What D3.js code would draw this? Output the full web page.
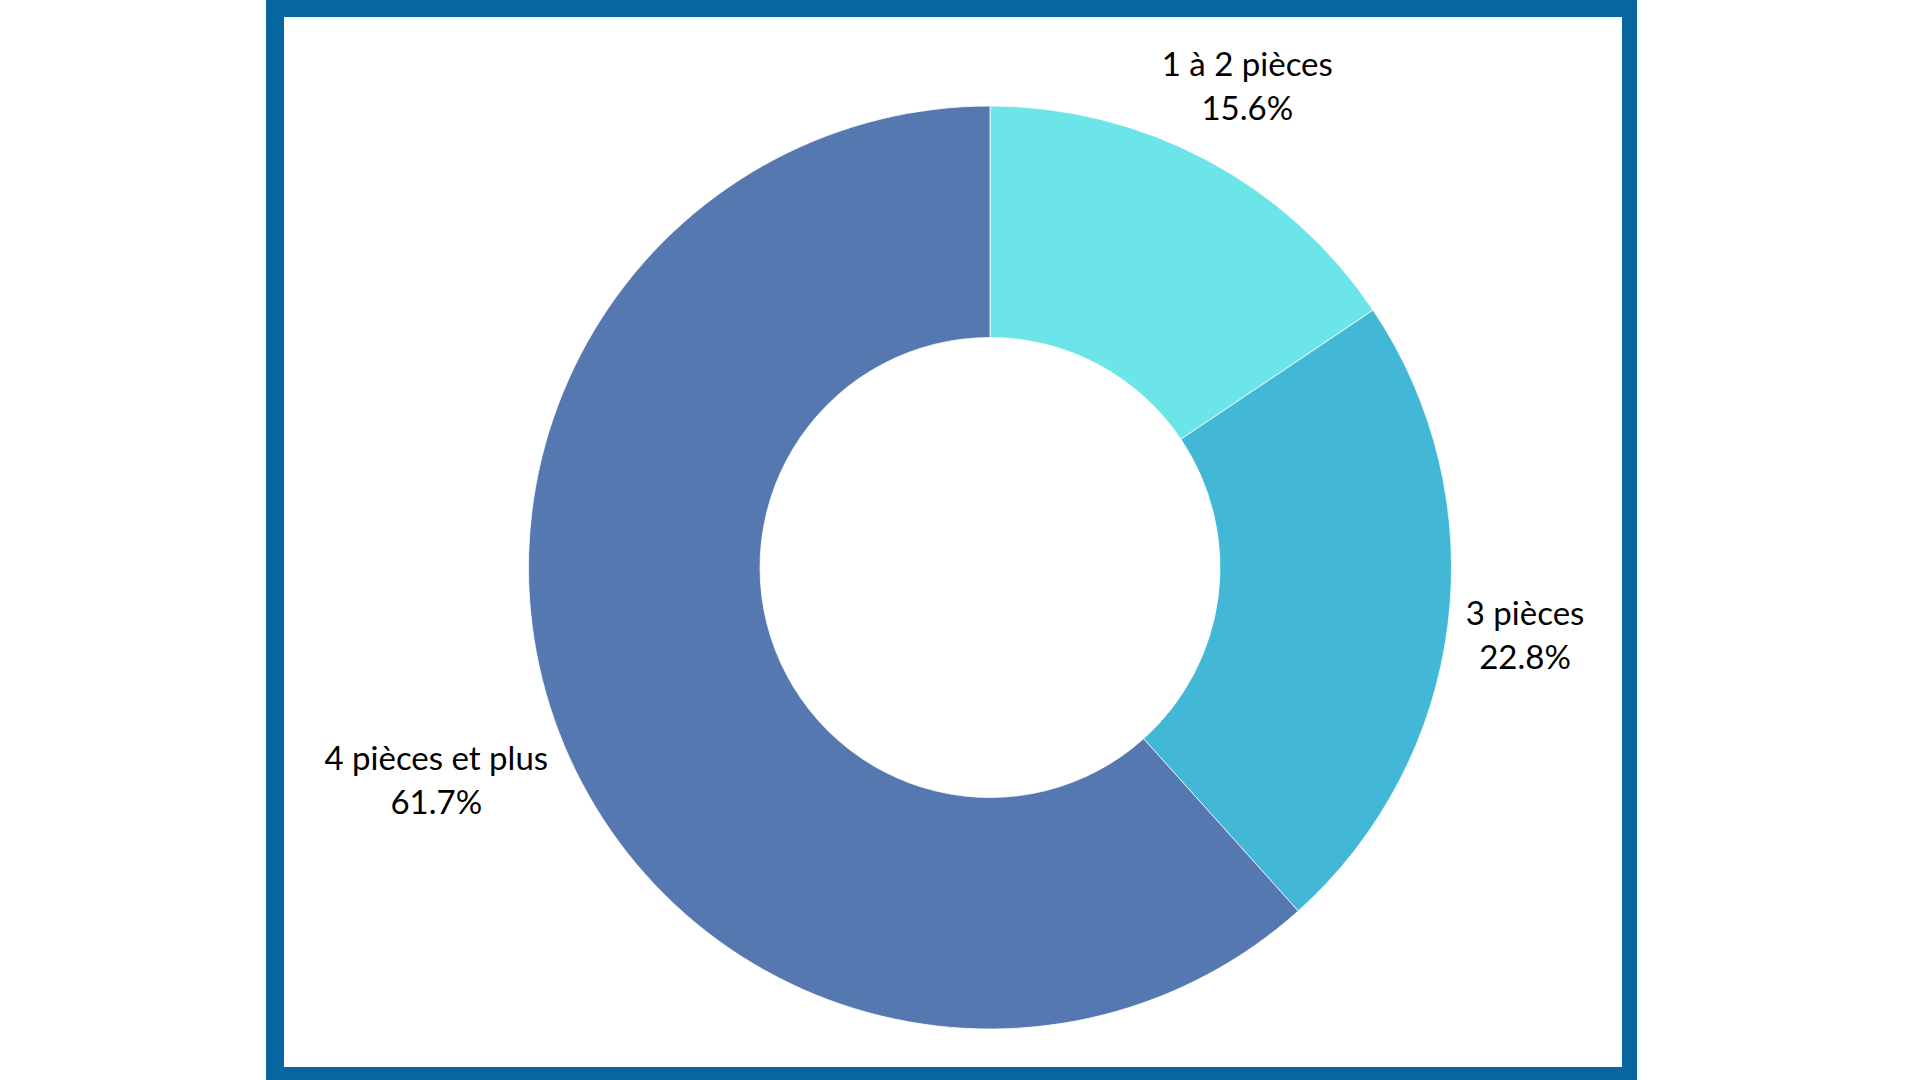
<!DOCTYPE html>
<html>
<head>
<meta charset="utf-8">
<script src="https://d3js.org/d3.v7.min.js"></script>
<style>
  body { margin: 0; background: #fff; }
  svg { display: block; }
</style>
</head>
<body>
<svg width="1920" height="1080"></svg>
<script>
// data
var categories = ["1 à 2 pièces", "3 pièces", "4 pièces et plus"];
var values = [15.6, 22.8, 61.7];
var valueLabels = ["15.6%", "22.8%", "61.7%"];
var colors = ["#6be5e8", "#42b7d6", "#5578b0"];

var svg = d3.select("svg");

// blue frame
svg.append("rect")
    .attr("x", 266).attr("y", -2)
    .attr("width", 1371).attr("height", 1086)
    .attr("fill", "#0566a0");
svg.append("rect")
    .attr("x", 284).attr("y", 17)
    .attr("width", 1338).attr("height", 1050)
    .attr("fill", "#fff");

var cx = 990, cy = 567.5,
    outerR = 461.5, innerR = 230;

var data = categories.map(function(c, i) {
  return {name: c, value: values[i], label: valueLabels[i], color: colors[i]};
});

var pie = d3.pie().sort(null).value(function(d) { return d.value; });
var arc = d3.arc().innerRadius(innerR).outerRadius(outerR);

var g = svg.append("g").attr("transform", "translate(" + cx + "," + cy + ")");

g.selectAll("path.slice")
    .data(pie(data))
  .enter().append("path")
    .attr("class", "slice")
    .attr("d", arc)
    .attr("fill", function(d) { return d.data.color; })
    .attr("stroke", "#fff")
    .attr("stroke-width", 0.75);

// labels outside the ring, box pushed out along the mid angle
var gap = 476;
pie(data).forEach(function(d) {
  var a = (d.startAngle + d.endAngle) / 2;
  var t = g.append("text")
      .attr("text-anchor", "middle")
      .style("font-family", "Lato, 'Open Sans', sans-serif")
      .style("font-size", "33px")
      .style("fill", "#000");
  t.append("tspan").attr("x", 0).attr("y", 0).text(d.data.name);
  t.append("tspan").attr("x", 0).attr("y", 44).text(d.data.label);
  var b = t.node().getBBox();
  var sx = Math.sin(a), sy = -Math.cos(a);
  // glyph box is a bit shorter than the line box
  var dist = gap + Math.abs(sx) * b.width / 2 + Math.abs(sy) * (b.height - 14) / 2;
  var px = dist * sx, py = dist * sy;
  t.attr("transform", "translate(" + (px - (b.x + b.width / 2)) + "," + (py - (b.y + b.height / 2)) + ")");
});
</script>
</body>
</html>
